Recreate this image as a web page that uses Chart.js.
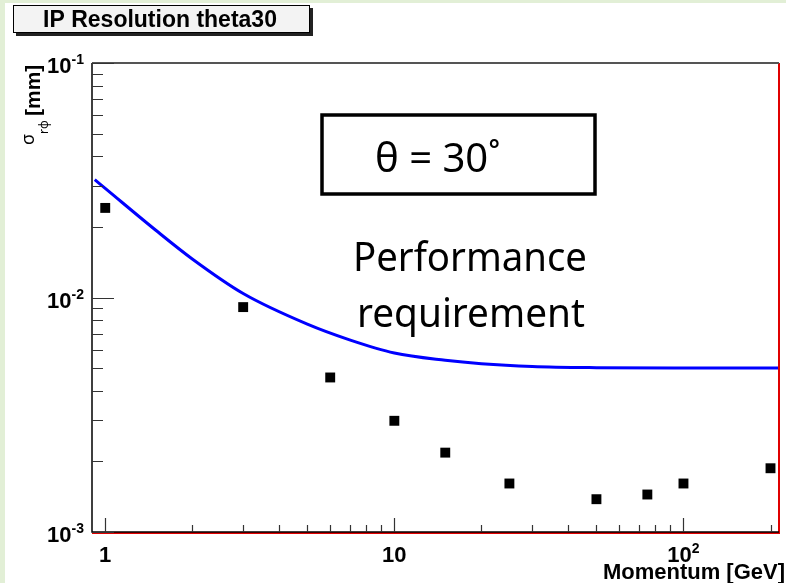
<!DOCTYPE html>
<html>
<head>
<meta charset="utf-8">
<script src="https://cdn.jsdelivr.net/npm/chart.js@4.4.0/dist/chart.umd.min.js"></script>
<style>
  html, body { margin: 0; padding: 0; background: #ffffff; }
  #wrap { width: 786px; height: 583px; }
</style>
</head>
<body>
<div id="wrap"><canvas id="ipChart" width="786" height="583"></canvas></div>
<script>
// measured points (momentum in GeV, sigma in mm)
const momentum = [1, 3, 6, 10, 15, 25, 50, 75, 100, 200];
const sigmaRPhi = [0.0241, 0.0091, 0.00456, 0.00298, 0.00218, 0.00161, 0.00138, 0.001445, 0.00161, 0.00187];

// performance requirement curve
const reqMomentum = [0.92, 1, 1.5, 2, 3, 5, 7, 10, 15, 20, 30, 50, 100, 214];
const reqSigma = [0.0318, 0.0292, 0.0193, 0.0146, 0.0104, 0.0077, 0.0066, 0.0058, 0.0054, 0.00522, 0.00508, 0.00502, 0.005, 0.005];

// axis ticks
const xMajor = [1, 10, 100];
const xMajorLabels = [["1", ""], ["10", ""], ["10", "2"]];
const xMinor = [2, 3, 4, 5, 6, 7, 8, 9, 20, 30, 40, 50, 60, 70, 80, 90, 200];
const yMajor = [0.1, 0.01, 0.001];
const yMajorLabels = [["10", "-1"], ["10", "-2"], ["10", "-3"]];
const yMinor = [0.002, 0.003, 0.004, 0.005, 0.006, 0.007, 0.008, 0.009, 0.02, 0.03, 0.04, 0.05, 0.06, 0.07, 0.08, 0.09];

const BOLD = "'Liberation Sans', Arial, sans-serif";
const THIN = "'Noto Sans', 'DejaVu Sans', sans-serif";

// text squeezed to a given width if needed
function fitText(ctx, text, cx, y, maxW, font) {
  ctx.font = font;
  const w = ctx.measureText(text).width;
  const k = Math.min(1, maxW / w);
  ctx.save();
  ctx.translate(cx, y);
  ctx.scale(k, 1);
  ctx.textAlign = "center";
  ctx.fillText(text, 0, 0);
  ctx.restore();
}

// "10" with a superscript
function powerLabel(ctx, base, exp, x, y, align) {
  ctx.font = "bold 22px " + BOLD;
  const wb = ctx.measureText(base).width;
  ctx.font = "bold 14px " + BOLD;
  const we = exp ? ctx.measureText(exp).width : 0;
  const total = wb + we;
  let left = align === "right" ? x - total : x - total / 2;
  ctx.textAlign = "left";
  ctx.textBaseline = "alphabetic";
  ctx.font = "bold 22px " + BOLD;
  ctx.fillText(base, left, y);
  if (exp) {
    ctx.font = "bold 14px " + BOLD;
    ctx.fillText(exp, left + wb, y - 9);
  }
}

const rootStyle = {
  id: "rootStyle",
  beforeDraw(chart) {
    const ctx = chart.ctx;
    ctx.save();
    ctx.fillStyle = "#ffffff";
    ctx.fillRect(0, 0, chart.width, chart.height);
    ctx.fillStyle = "#e2efd6";
    ctx.fillRect(0, 0, 5, chart.height);
    ctx.fillRect(0, 0, chart.width, 3);

    // title box with shadow
    ctx.fillStyle = "#222222";
    ctx.fillRect(16, 8, 297, 28);
    ctx.fillStyle = "#f3f3f3";
    ctx.fillRect(13, 5, 297, 28);
    ctx.strokeStyle = "#000000";
    ctx.lineWidth = 1;
    ctx.strokeRect(13.5, 5.5, 296, 27);
    ctx.fillStyle = "#000000";
    ctx.textBaseline = "alphabetic";
    fitText(ctx, "IP Resolution theta30", 160, 27, 236, "bold 23px " + BOLD);
    ctx.restore();
  },
  afterDatasetsDraw(chart) {
    const ctx = chart.ctx;
    const a = chart.chartArea;
    const xs = chart.scales.x, ys = chart.scales.y;
    ctx.save();

    // frame
    ctx.strokeStyle = "#e00000";
    ctx.lineWidth = 2;
    ctx.beginPath();
    ctx.moveTo(a.right, a.top);
    ctx.lineTo(a.right, a.bottom + 1);
    ctx.lineTo(a.left, a.bottom + 1);
    ctx.stroke();
    ctx.strokeStyle = "#555555";
    ctx.lineWidth = 2;
    ctx.beginPath();
    ctx.moveTo(a.left, a.top);
    ctx.lineTo(a.right, a.top);
    ctx.stroke();
    ctx.strokeStyle = "#000000";
    ctx.lineWidth = 1.5;
    ctx.beginPath();
    ctx.moveTo(a.left, a.top);
    ctx.lineTo(a.left, a.bottom);
    ctx.lineTo(a.right, a.bottom);
    ctx.stroke();

    // ticks
    ctx.strokeStyle = "#333333";
    ctx.lineWidth = 1.2;
    ctx.beginPath();
    xMajor.forEach(v => { const px = Math.round(xs.getPixelForValue(v)) + 0.5; ctx.moveTo(px, a.bottom); ctx.lineTo(px, a.bottom - 14); });
    xMinor.forEach(v => { const px = Math.round(xs.getPixelForValue(v)) + 0.5; ctx.moveTo(px, a.bottom); ctx.lineTo(px, a.bottom - 7); });
    yMajor.forEach(v => { const py = Math.round(ys.getPixelForValue(v)) + 0.5; ctx.moveTo(a.left, py); ctx.lineTo(a.left + 22, py); });
    yMinor.forEach(v => { const py = Math.round(ys.getPixelForValue(v)) + 0.5; ctx.moveTo(a.left, py); ctx.lineTo(a.left + 11, py); });
    ctx.stroke();

    // tick labels
    ctx.fillStyle = "#000000";
    xMajor.forEach((v, i) => powerLabel(ctx, xMajorLabels[i][0], xMajorLabels[i][1], xs.getPixelForValue(v), 562, "center"));
    yMajor.forEach((v, i) => powerLabel(ctx, yMajorLabels[i][0], yMajorLabels[i][1], 84, ys.getPixelForValue(v) + 10, "right"));

    // axis titles
    ctx.textAlign = "right";
    ctx.font = "bold 22px " + BOLD;
    ctx.fillText("Momentum [GeV]", 785, 579);

    ctx.save();
    ctx.translate(40, 116);
    ctx.rotate(-Math.PI / 2);
    ctx.textAlign = "left";
    ctx.font = "bold 21px " + BOLD;
    ctx.fillText("[mm]", 0, 0);
    ctx.restore();
    ctx.save();
    ctx.translate(34, 145);
    ctx.rotate(-Math.PI / 2);
    ctx.textAlign = "left";
    ctx.font = "18px " + THIN;
    ctx.fillText("σ", 0, 0);
    ctx.restore();
    ctx.save();
    ctx.translate(48, 134);
    ctx.rotate(-Math.PI / 2);
    ctx.textAlign = "left";
    ctx.font = "12px " + THIN;
    ctx.fillText("rφ", 0, 0);
    ctx.restore();

    // annotation box
    ctx.fillStyle = "#ffffff";
    ctx.fillRect(322, 115, 273, 79);
    ctx.strokeStyle = "#000000";
    ctx.lineWidth = 3.5;
    ctx.strokeRect(322, 115, 273, 79);
    ctx.fillStyle = "#000000";
    ctx.textAlign = "left";
    ctx.font = "40px " + THIN;
    ctx.fillText("θ = 30˚", 375, 172);
    fitText(ctx, "Performance", 470, 271, 234, "40px " + THIN);
    fitText(ctx, "requirement", 471, 327, 228, "40px " + THIN);

    ctx.restore();
  }
};

new Chart(document.getElementById("ipChart"), {
  type: "scatter",
  data: {
    datasets: [{
      label: "Performance requirement",
      data: reqMomentum.map((p, i) => ({ x: p, y: reqSigma[i] })),
      showLine: true,
      borderColor: "#0000ff",
      borderWidth: 3,
      pointRadius: 0,
      cubicInterpolationMode: "monotone"
    }, {
      label: "IP resolution",
      data: momentum.map((p, i) => ({ x: p, y: sigmaRPhi[i] })),
      showLine: false,
      pointStyle: "rect",
      pointRadius: 7,
      borderWidth: 0,
      backgroundColor: "#000000"
    }]
  },
  options: {
    responsive: false,
    animation: false,
    layout: { padding: { top: 63, left: 92, right: 3, bottom: 51 } },
    plugins: { legend: { display: false }, tooltip: { enabled: false } },
    scales: {
      x: { type: "logarithmic", min: 0.9, max: 214, display: false },
      y: { type: "logarithmic", min: 0.001, max: 0.1, display: false }
    }
  },
  plugins: [rootStyle]
});
</script>
</body>
</html>
